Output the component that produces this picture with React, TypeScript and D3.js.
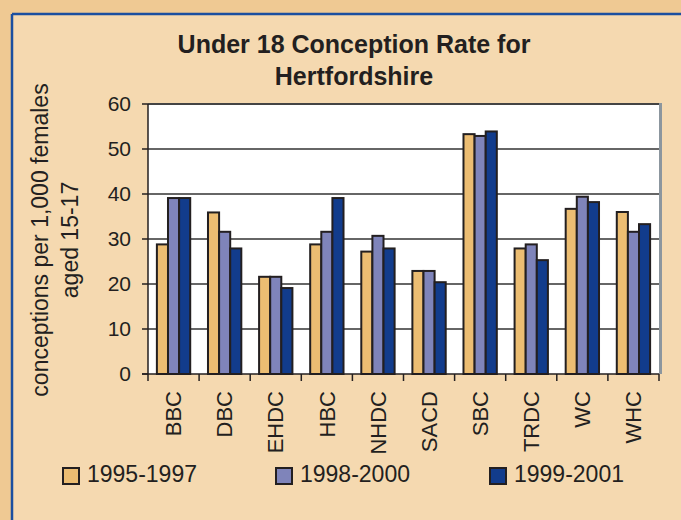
import React, { useEffect } from "react";
import * as d3 from "d3";

const categories = ["BBC", "DBC", "EHDC", "HBC", "NHDC", "SACD", "SBC", "TRDC", "WC", "WHC"];
const seriesNames = ["1995-1997", "1998-2000", "1999-2001"];
const rates9597 = [28.8, 35.9, 21.6, 28.8, 27.2, 22.9, 53.3, 27.9, 36.7, 36.0];
const rates9800 = [39.1, 31.6, 21.6, 31.6, 30.7, 22.9, 52.9, 28.8, 39.4, 31.6];
const rates9901 = [39.1, 27.9, 19.1, 39.1, 27.9, 20.4, 53.9, 25.3, 38.2, 33.3];
const yTicks = [0, 10, 20, 30, 40, 50, 60];

const colors = ["#ECBD72", "#7F84BA", "#123C8C"];
const ink = "#231F20";
const font = "'Liberation Sans', Arial, sans-serif";

export default function App() {
  useEffect(() => {
    document.body.style.margin = "0";
  }, []);

  const width = 681;
  const height = 520;
  const plot = { left: 148, right: 659, top: 104, bottom: 374 };

  const x0 = d3.scaleBand<string>().domain(categories).range([plot.left, plot.right]).padding(0);
  const x1 = d3
    .scaleBand<string>()
    .domain(seriesNames)
    .range([0, x0.bandwidth()])
    .paddingInner(0)
    .paddingOuter(0.8);
  const y = d3.scaleLinear().domain([0, 60]).range([plot.bottom, plot.top]);

  const allSeries = [rates9597, rates9800, rates9901];
  const legendX = [63, 276, 490];

  return (
    <svg width={width} height={height} style={{ display: "block", fontFamily: font }}>
      {/* outer background and panel */}
      <rect x={0} y={0} width={width} height={height} fill="#EFC993" />
      <rect x={12} y={14} width={width} height={height} fill="#F5D9B0" />
      <line x1={12} y1={14} x2={width} y2={14} stroke="#1B4FA0" strokeWidth={2.5} />
      <line x1={12} y1={14} x2={12} y2={height} stroke="#1B4FA0" strokeWidth={2.5} />

      {/* title */}
      <text x={354} y={53} textAnchor="middle" fontSize={25} fontWeight="bold" fill={ink}>
        Under 18 Conception Rate for
      </text>
      <text x={354} y={85} textAnchor="middle" fontSize={25} fontWeight="bold" fill={ink}>
        Hertfordshire
      </text>

      {/* plot area */}
      <rect
        x={plot.left}
        y={plot.top}
        width={plot.right - plot.left}
        height={plot.bottom - plot.top}
        fill="#FFFFFF"
      />
      <line
        x1={plot.right + 1.5}
        y1={plot.top - 1}
        x2={plot.right + 1.5}
        y2={plot.bottom}
        stroke="#8C969E"
        strokeWidth={3}
      />

      {/* gridlines */}
      {yTicks.slice(1).map((t) => (
        <line
          key={t}
          x1={plot.left}
          x2={plot.right}
          y1={y(t)}
          y2={y(t)}
          stroke={t === 60 ? "#444" : "#333"}
          strokeWidth={t === 60 ? 2 : 1.5}
        />
      ))}

      {/* bars */}
      {categories.map((c, i) => (
        <g key={c} transform={`translate(${x0(c)},0)`}>
          {allSeries.map((s, k) => (
            <rect
              key={k}
              x={x1(seriesNames[k])}
              y={y(s[i])}
              width={x1.bandwidth()}
              height={y(0) - y(s[i])}
              fill={colors[k]}
              stroke={ink}
              strokeWidth={2}
            />
          ))}
        </g>
      ))}

      {/* y axis */}
      <line x1={plot.left} x2={plot.left} y1={plot.top} y2={plot.bottom} stroke={ink} strokeWidth={1.5} />
      {yTicks.map((t) => (
        <g key={t}>
          <line x1={plot.left - 6} x2={plot.left} y1={y(t)} y2={y(t)} stroke={ink} strokeWidth={1.5} />
          <text x={131} y={y(t)} dy="0.35em" textAnchor="end" fontSize={21} fill={ink}>
            {t}
          </text>
        </g>
      ))}

      {/* x axis */}
      <line x1={plot.left - 6} x2={plot.right} y1={plot.bottom} y2={plot.bottom} stroke={ink} strokeWidth={1.5} />
      {[...categories.map((c) => x0(c) as number), plot.right].map((bx, i) => (
        <line key={i} x1={bx} x2={bx} y1={plot.bottom} y2={plot.bottom + 7} stroke={ink} strokeWidth={1.5} />
      ))}
      {categories.map((c) => {
        const cx = (x0(c) as number) + x0.bandwidth() / 2;
        return (
          <text
            key={c}
            transform={`translate(${cx},391) rotate(-90)`}
            dy="0.35em"
            textAnchor="end"
            fontSize={22}
            fill={ink}
          >
            {c}
          </text>
        );
      })}

      {/* y axis title */}
      <g transform="translate(0,240) rotate(-90)">
        <text x={0} y={48} textAnchor="middle" fontSize={23} fill={ink}>
          conceptions per 1,000 females
        </text>
        <text x={0} y={78} textAnchor="middle" fontSize={23} fill={ink}>
          aged 15-17
        </text>
      </g>

      {/* legend */}
      {seriesNames.map((n, k) => (
        <g key={n}>
          <rect x={legendX[k]} y={468} width={16} height={16} fill={colors[k]} stroke={ink} strokeWidth={2} />
          <text x={legendX[k] + 24} y={482} fontSize={23} fill={ink}>
            {n}
          </text>
        </g>
      ))}
    </svg>
  );
}
